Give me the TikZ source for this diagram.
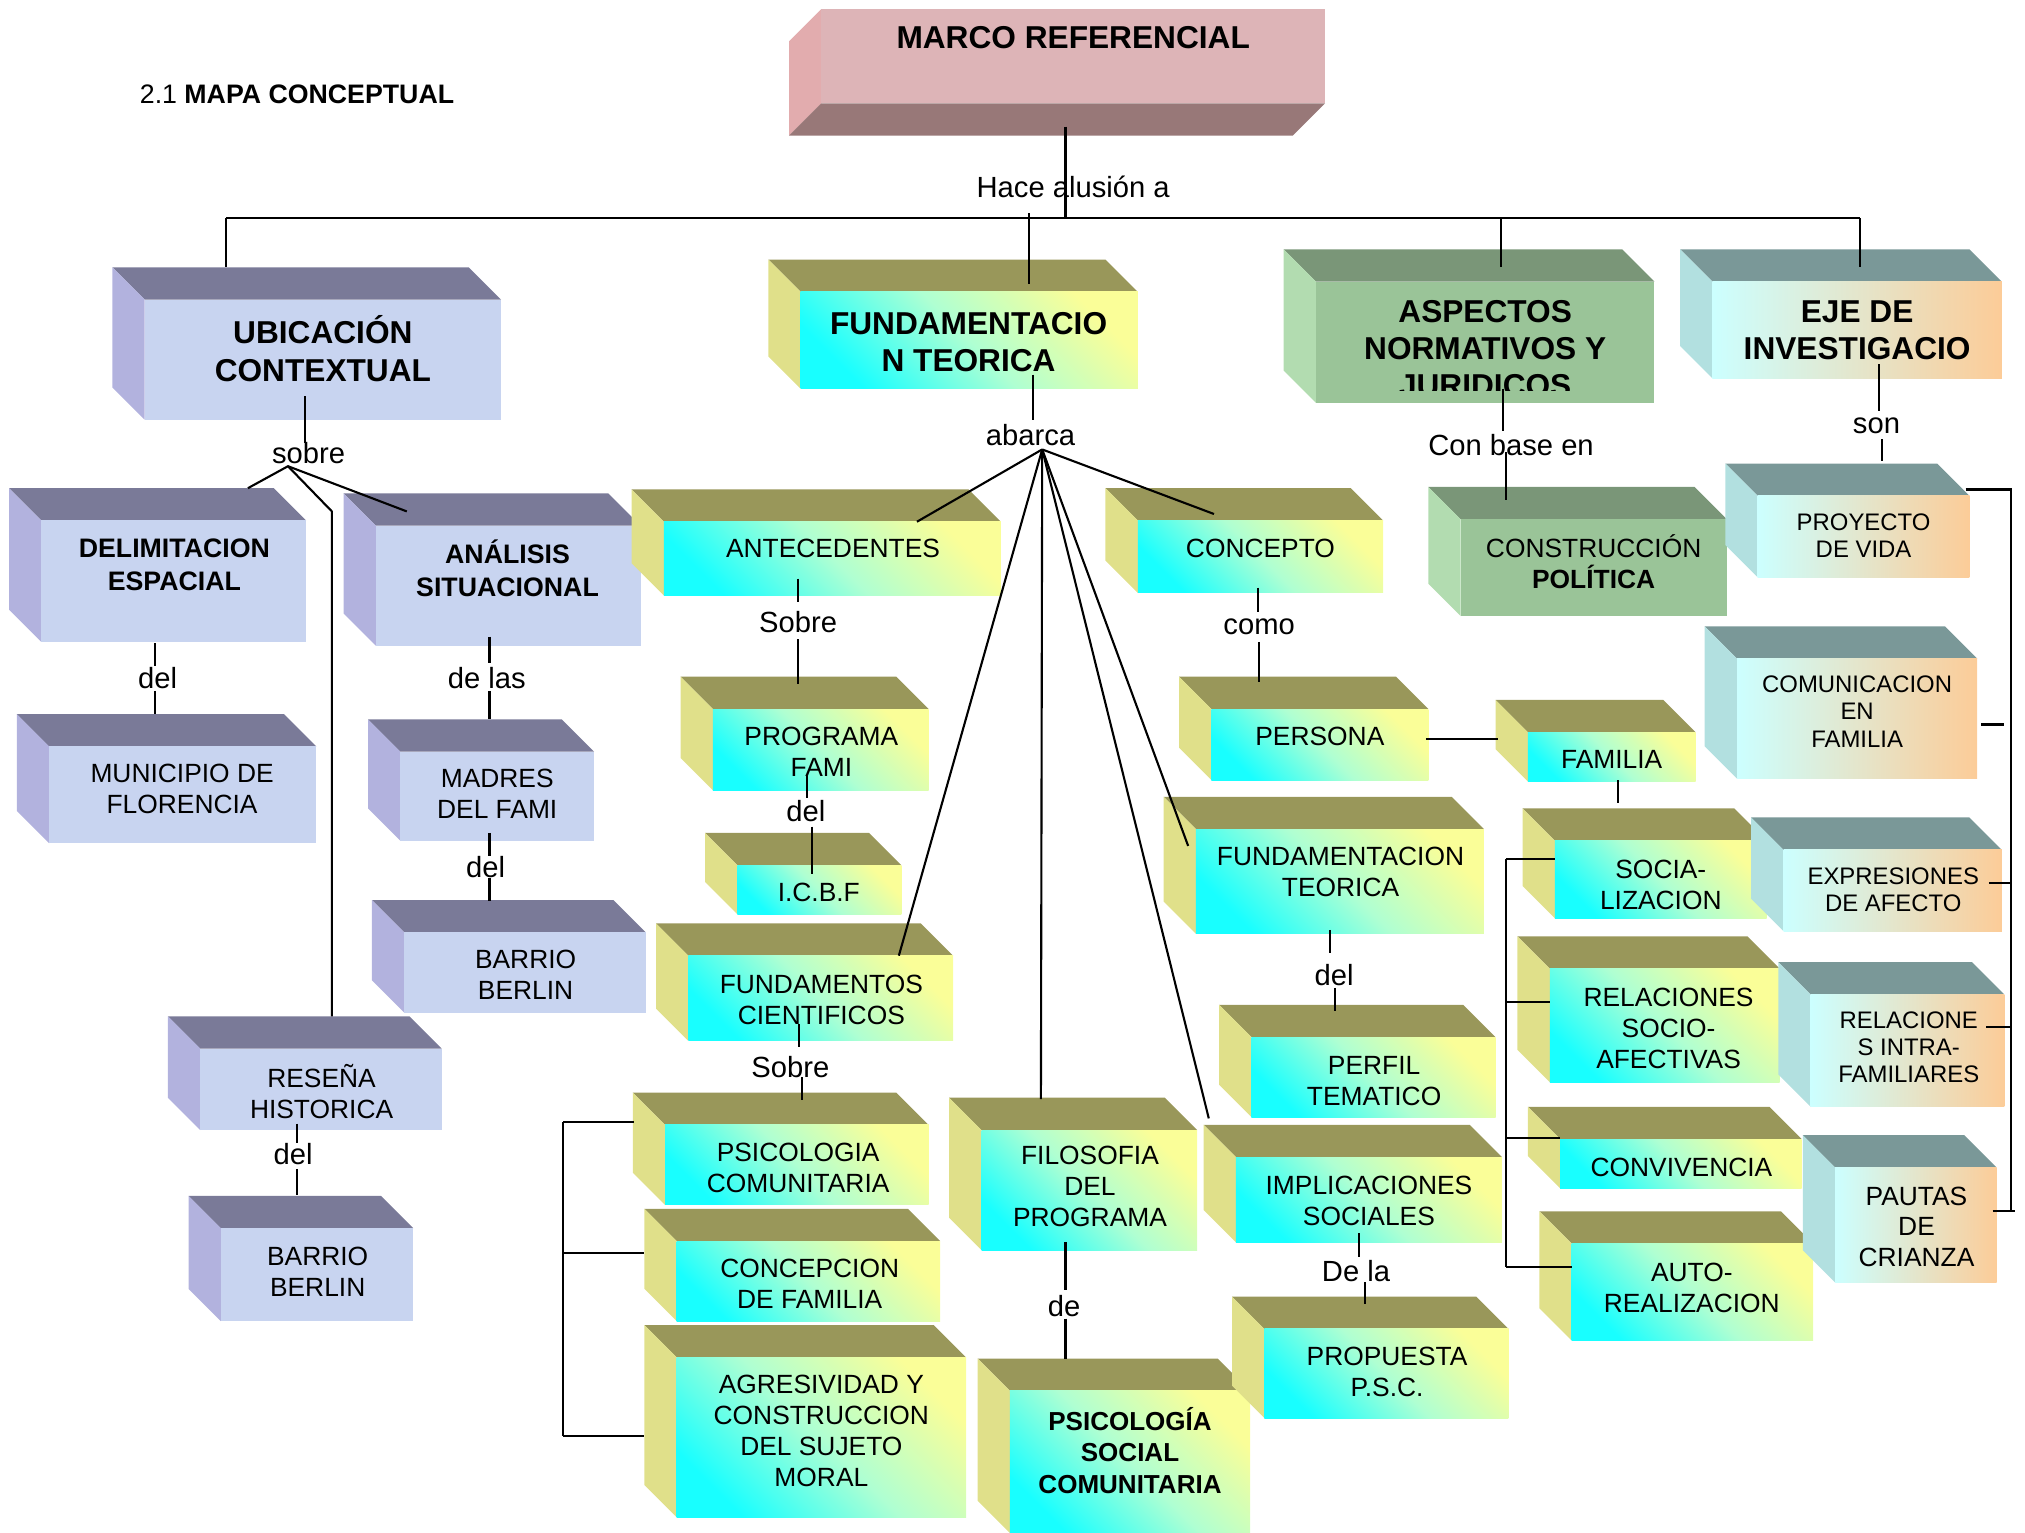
\documentclass[tikz,border=0pt]{standalone}
\usepackage{fontspec}
\setmainfont{Liberation Sans}
\usetikzlibrary{fit}
\definecolor{bluetop}{RGB}{122,122,152}
\definecolor{blueside}{RGB}{178,178,222}
\definecolor{bluefront}{RGB}{200,212,240}
\definecolor{yeltop}{RGB}{153,151,90}
\definecolor{yelside}{RGB}{224,224,138}
\definecolor{yelhi}{RGB}{250,254,152}
\definecolor{yelmid}{RGB}{175,255,210}
\definecolor{yello}{RGB}{24,255,255}
\definecolor{grntop}{RGB}{122,150,120}
\definecolor{grnside}{RGB}{178,220,176}
\definecolor{grnfront}{RGB}{154,196,152}
\definecolor{teatop}{RGB}{122,152,152}
\definecolor{teaside}{RGB}{178,224,224}
\definecolor{teacyan}{RGB}{204,255,255}
\definecolor{teapeach}{RGB}{252,204,152}
\definecolor{pinkfront}{RGB}{221,180,183}
\definecolor{pinkside}{RGB}{226,172,174}
\definecolor{pinkbot}{RGB}{152,120,120}
\tikzset{
  blu-top/.style={fill=bluetop}, blu-side/.style={fill=blueside}, blu-front/.style={fill=bluefront},
  yel-top/.style={fill=yeltop}, yel-side/.style={fill=yelside},
  yel-front/.style={top color=yelhi, bottom color=yello, middle color=yelmid, shading angle=-45},
  grn-top/.style={fill=grntop}, grn-side/.style={fill=grnside}, grn-front/.style={fill=grnfront},
  tea-top/.style={fill=teatop}, tea-side/.style={fill=teaside},
  tea-front/.style={left color=teacyan, right color=teapeach},
  hdr/.style={font=\fontsize{9}{10.6}\selectfont\bfseries, align=center, inner sep=0pt},
  hdrs/.style={font=\fontsize{7.6}{9.4}\selectfont\bfseries, align=center, inner sep=0pt},
  txt/.style={font=\fontsize{7.5}{8.8}\selectfont, align=center, inner sep=0pt},
  sml/.style={font=\fontsize{6.8}{7.7}\selectfont, align=center, inner sep=0pt},
  lbl/.style={font=\fontsize{8.3}{10}\selectfont, inner sep=0pt},
  ln/.style={draw=black, line width=0.6pt}
}
\newcommand\mkblock[6]{%
  \pgfmathsetmacro\cxa{#3+25}%
  \pgfmathsetmacro\cya{#4+25}%
  \pgfmathsetmacro\cxb{#5-25}%
  \pgfmathsetmacro\cyb{#6-25}%
  \fill[#1-top] (#3,#4) -- (\cxb,#4) -- (#5,\cya) -- (\cxa,\cya) -- cycle;
  \fill[#1-side] (#3,#4) -- (\cxa,\cya) -- (\cxa,#6) -- (#3,\cyb) -- cycle;
  \path[#1-front] (\cxa,\cya) rectangle (#5,#6);
  \node[fit={(\cxa,\cya)(#5,#6)}, inner sep=0pt] (#2) {};
}
\begin{document}
\begin{tikzpicture}[x=0.012915cm, y=-0.012915cm]
\useasboundingbox (0,0) rectangle (1568,1187);
% title
\node[font=\fontsize{7.6}{9}\selectfont, inner sep=0pt] (title) at (230,73) {2.1 \textbf{MAPA CONCEPTUAL}};
% marco referencial
\fill[pinkside] (636,7) -- (611,32) -- (611,105) -- (636,80) -- cycle;
\fill[pinkbot] (636,80) -- (1026,80) -- (1001,105) -- (611,105) -- cycle;
\fill[pinkfront] (636,7) rectangle (1026,80);
\node[fit={(636,7)(1026,80)}, inner sep=0pt] (marco) {};
% blocks
\mkblock{blu}{ubic}{87}{207}{388}{325}
\mkblock{yel}{fundt}{595}{201}{881}{301}
\mkblock{grn}{aspec}{994}{193}{1281}{312}
\mkblock{tea}{eje}{1301}{193}{1550}{293}
\mkblock{blu}{delim}{7}{378}{237}{497}
\mkblock{blu}{anal}{266}{382}{496}{500}
\mkblock{blu}{munic}{13}{553}{245}{653}
\mkblock{blu}{madres}{285}{557}{460}{651}
\mkblock{blu}{barrioa}{288}{697}{500}{784}
\mkblock{blu}{resena}{130}{787}{342}{875}
\mkblock{blu}{barriob}{146}{926}{320}{1023}
\mkblock{yel}{antec}{489}{379}{775}{461}
\mkblock{yel}{progr}{527}{524}{719}{612}
\mkblock{yel}{icbf}{546}{645}{698}{708}
\mkblock{yel}{fundc}{508}{715}{738}{806}
\mkblock{yel}{psicc}{490}{846}{719}{933}
\mkblock{yel}{concf}{499}{936}{728}{1023}
\mkblock{yel}{agres}{499}{1026}{748}{1175}
\mkblock{yel}{filos}{735}{850}{927}{968}
\mkblock{yel}{psics}{757}{1052}{968}{1187}
\mkblock{yel}{conc}{856}{378}{1071}{459}
\mkblock{yel}{pers}{913}{524}{1106}{604}
\mkblock{yel}{famil}{1158}{542}{1313}{605}
\mkblock{yel}{fteor}{901}{617}{1149}{723}
\mkblock{yel}{perfil}{944}{778}{1158}{865}
\mkblock{yel}{impl}{932}{871}{1163}{962}
\mkblock{yel}{prop}{954}{1004}{1168}{1098}
\mkblock{grn}{constr}{1106}{377}{1337}{477}
\mkblock{tea}{proy}{1336}{359}{1525}{447}
\mkblock{tea}{comun}{1320}{485}{1531}{603}
\mkblock{yel}{social}{1179}{626}{1368}{711}
\mkblock{tea}{expr}{1356}{633}{1550}{721}
\mkblock{yel}{relsoc}{1175}{725}{1378}{838}
\mkblock{tea}{relint}{1377}{745}{1552}{857}
\mkblock{yel}{conviv}{1183}{857}{1395}{920}
\mkblock{yel}{auto}{1192}{938}{1404}{1038}
\mkblock{tea}{pautas}{1396}{879}{1546}{993}
% connector points
\coordinate (m1) at (825,98);   \coordinate (m2) at (825,169);
\coordinate (hl) at (175,169);  \coordinate (hr) at (1440,169);
\coordinate (u0) at (175,207);
\coordinate (f0) at (797,165);  \coordinate (f1) at (797,220);
\coordinate (a0) at (1162,169); \coordinate (a1) at (1162,207);
\coordinate (e1) at (1440,207);
\coordinate (s1) at (236,307);  \coordinate (s2) at (236,343);
\coordinate (sf) at (223,361);
\coordinate (sd) at (192,378);  \coordinate (sa) at (315,396);
\coordinate (sr) at (257,396);  \coordinate (sr2) at (257,787);
\coordinate (d1) at (120,498);  \coordinate (d2) at (120,516);
\coordinate (d3) at (120,535);  \coordinate (d4) at (120,553);
\coordinate (n1) at (379,493);  \coordinate (n2) at (379,513);
\coordinate (n3) at (379,535);  \coordinate (n4) at (379,557);
\coordinate (q1) at (379,645);  \coordinate (q2) at (379,663);
\coordinate (q3) at (379,680);  \coordinate (q4) at (379,698);
\coordinate (r1) at (230,870);  \coordinate (r2) at (230,885);
\coordinate (r3) at (230,905);  \coordinate (r4) at (230,925);
\coordinate (b1) at (800,290);  \coordinate (b2) at (800,325);
\coordinate (bf) at (807,348);
\coordinate (bA) at (710,404);  \coordinate (bC) at (940,398);
\coordinate (bF) at (696,740);  \coordinate (bP) at (806,851);
\coordinate (bT) at (920,655);  \coordinate (bI) at (936,866);
\coordinate (x1) at (618,448);  \coordinate (x2) at (618,466);
\coordinate (x3) at (618,495);  \coordinate (x4) at (618,530);
\coordinate (p1) at (625,601);  \coordinate (p2) at (625,618);
\coordinate (p3) at (629,640);  \coordinate (p4) at (629,677);
\coordinate (k1) at (619,793);  \coordinate (k2) at (619,811);
\coordinate (k3) at (621,834);  \coordinate (k4) at (621,852);
\coordinate (v1) at (436,869);  \coordinate (v2) at (436,970);  \coordinate (v3) at (436,1112);
\coordinate (w1) at (491,869);  \coordinate (w2) at (499,970);  \coordinate (w3) at (499,1112);
\coordinate (g1) at (825,962);  \coordinate (g2) at (825,999);
\coordinate (g3) at (825,1021); \coordinate (g4) at (825,1052);
\coordinate (c1) at (974,455);  \coordinate (c2) at (974,474);
\coordinate (c3) at (975,497);  \coordinate (c4) at (975,528);
\coordinate (pf1) at (1104,572); \coordinate (pf2) at (1160,572);
\coordinate (fs1) at (1253,604); \coordinate (fs2) at (1253,622);
\coordinate (t1) at (1030,720); \coordinate (t2) at (1030,738);
\coordinate (t3) at (1034,765); \coordinate (t4) at (1034,783);
\coordinate (i1) at (1052,955); \coordinate (i2) at (1052,973);
\coordinate (i3) at (1057,993); \coordinate (i4) at (1057,1010);
\coordinate (cb1) at (1164,301); \coordinate (cb2) at (1164,334);
\coordinate (cb3) at (1166,350); \coordinate (cb4) at (1166,387);
\coordinate (so1) at (1455,282); \coordinate (so2) at (1455,318);
\coordinate (so3) at (1457,340); \coordinate (so4) at (1457,357);
\coordinate (lv1) at (1166,665); \coordinate (lv2) at (1166,776);
\coordinate (lv3) at (1166,881); \coordinate (lv4) at (1166,981);
\coordinate (lh1) at (1204,665); \coordinate (lh2) at (1200,776);
\coordinate (lh3) at (1208,881); \coordinate (lh4) at (1217,981);
\coordinate (rv1) at (1557,379); \coordinate (rv5) at (1557,938);
\coordinate (rh1) at (1522,379); \coordinate (rh2) at (1534,561);
\coordinate (rh2b) at (1552,561);
\coordinate (rh3) at (1540,684); \coordinate (rv3) at (1557,684);
\coordinate (rh4) at (1538,795); \coordinate (rv4) at (1557,795);
\coordinate (rh5) at (1543,938); \coordinate (rh5b) at (1560,938);
% connectors
\draw[ln] (m1) -- (m2);
\draw[ln] (hl) -- (hr);
\draw[ln] (hl) -- (u0);
\draw[ln] (f0) -- (f1);
\draw[ln] (a0) -- (a1);
\draw[ln] (hr) -- (e1);
\draw[ln] (s1) -- (s2);
\draw[ln] (sd) -- (sf) -- (sa);
\draw[ln] (sf) -- (sr) -- (sr2);
\draw[ln] (d1) -- (d2); \draw[ln] (d3) -- (d4);
\draw[ln] (n1) -- (n2); \draw[ln] (n3) -- (n4);
\draw[ln] (q1) -- (q2); \draw[ln] (q3) -- (q4);
\draw[ln] (r1) -- (r2); \draw[ln] (r3) -- (r4);
\draw[ln] (b1) -- (b2);
\draw[ln] (bf) -- (bA); \draw[ln] (bf) -- (bC); \draw[ln] (bf) -- (bF);
\draw[ln] (bf) -- (bP); \draw[ln] (bf) -- (bT); \draw[ln] (bf) -- (bI);
\draw[ln] (x1) -- (x2); \draw[ln] (x3) -- (x4);
\draw[ln] (p1) -- (p2); \draw[ln] (p3) -- (p4);
\draw[ln] (k1) -- (k2); \draw[ln] (k3) -- (k4);
\draw[ln] (v1) -- (v3);
\draw[ln] (v1) -- (w1); \draw[ln] (v2) -- (w2); \draw[ln] (v3) -- (w3);
\draw[ln] (g1) -- (g2); \draw[ln] (g3) -- (g4);
\draw[ln] (c1) -- (c2); \draw[ln] (c3) -- (c4);
\draw[ln] (pf1) -- (pf2);
\draw[ln] (fs1) -- (fs2);
\draw[ln] (t1) -- (t2); \draw[ln] (t3) -- (t4);
\draw[ln] (i1) -- (i2); \draw[ln] (i3) -- (i4);
\draw[ln] (cb1) -- (cb2); \draw[ln] (cb3) -- (cb4);
\draw[ln] (so1) -- (so2); \draw[ln] (so3) -- (so4);
\draw[ln] (lv1) -- (lv4);
\draw[ln] (lv1) -- (lh1); \draw[ln] (lv2) -- (lh2); \draw[ln] (lv3) -- (lh3); \draw[ln] (lv4) -- (lh4);
\draw[ln] (rh1) -- (rv1) -- (rv5);
\draw[ln] (rh2) -- (rh2b);
\draw[ln] (rh3) -- (rv3);
\draw[ln] (rh4) -- (rv4);
\draw[ln] (rh5) -- (rh5b);
% texts
\node[hdr] (marco-t) at (831,29) {MARCO REFERENCIAL};
\node[lbl] (l-hace) at (831,145) {Hace alusión a};
\node[hdr] (ubic-t) at (250,270) {UBICACIÓN\\CONTEXTUAL};
\node[hdr] (fundt-t) at (750,265) {FUNDAMENTACIO\\N TEORICA};
\begin{scope}
\clip (1020,218) rectangle (1281,302);
\node[hdr] (aspec-t) at (1150,270) {ASPECTOS\\NORMATIVOS Y\\JURIDICOS};
\end{scope}
\node[hdr] (eje-t) at (1438,256) {EJE DE\\INVESTIGACIO};
\node[lbl] (l-sobre) at (239,351) {sobre};
\node[hdrs] (delim-t) at (135,437) {DELIMITACION\\ESPACIAL};
\node[hdrs] (anal-t) at (393,440) {ANÁLISIS\\SITUACIONAL};
\node[lbl] (l-del1) at (122,525) {del};
\node[lbl] (l-delas) at (377,525) {de las};
\node[txt] (munic-t) at (141,611) {MUNICIPIO DE\\FLORENCIA};
\node[txt] (madres-t) at (385,615) {MADRES\\DEL FAMI};
\node[lbl] (l-del2) at (376,671) {del};
\node[txt] (barrioa-t) at (407,755) {BARRIO\\BERLIN};
\node[txt] (resena-t) at (249,845) {RESEÑA\\HISTORICA};
\node[lbl] (l-del3) at (227,894) {del};
\node[txt] (barriob-t) at (246,985) {BARRIO\\BERLIN};
\node[lbl] (l-abarca) at (798,337) {abarca};
\node[txt] (antec-t) at (645,425) {ANTECEDENTES};
\node[lbl] (l-sobre2) at (618,482) {Sobre};
\node[txt] (progr-t) at (636,582) {PROGRAMA\\FAMI};
\node[lbl] (l-del4) at (624,628) {del};
\node[txt] (icbf-t) at (634,691) {I.C.B.F};
\node[txt] (fundc-t) at (636,774) {FUNDAMENTOS\\CIENTIFICOS};
\node[lbl] (l-sobre3) at (612,826) {Sobre};
\node[txt] (psicc-t) at (618,904) {PSICOLOGIA\\COMUNITARIA};
\node[txt] (concf-t) at (627,994) {CONCEPCION\\DE FAMILIA};
\node[txt] (agres-t) at (636,1108) {AGRESIVIDAD Y\\CONSTRUCCION\\DEL SUJETO\\MORAL};
\node[txt] (filos-t) at (844,919) {FILOSOFIA\\DEL\\PROGRAMA};
\node[lbl] (l-de) at (824,1011) {de};
\node[font=\fontsize{7.4}{9}\selectfont\bfseries, align=center, inner sep=0pt] (psics-t) at (875,1123) {PSICOLOGÍA\\SOCIAL\\COMUNITARIA};
\node[txt] (conc-t) at (976,425) {CONCEPTO};
\node[lbl] (l-como) at (975,485) {como};
\node[txt] (pers-t) at (1022,570) {PERSONA};
\node[txt] (famil-t) at (1248,588) {FAMILIA};
\node[txt] (fteor-t) at (1038,675) {FUNDAMENTACION\\TEORICA};
\node[lbl] (l-del5) at (1033,755) {del};
\node[txt] (perfil-t) at (1064,837) {PERFIL\\TEMATICO};
\node[txt] (impl-t) at (1060,930) {IMPLICACIONES\\SOCIALES};
\node[lbl] (l-dela) at (1050,984) {De la};
\node[txt] (prop-t) at (1074,1062) {PROPUESTA\\P.S.C.};
\node[lbl] (l-base) at (1170,345) {Con base en};
\node[txt] (constr-t) at (1234,435) {CONSTRUCCIÓN\\\textbf{POLÍTICA}};
\node[lbl] (l-son) at (1453,330) {son};
\node[sml] (proy-t) at (1443,415) {PROYECTO\\DE VIDA};
\node[sml] (comun-t) at (1438,551) {COMUNICACION\\EN\\FAMILIA};
\node[txt] (social-t) at (1286,685) {SOCIA-\\LIZACION};
\node[sml] (expr-t) at (1466,689) {EXPRESIONES\\DE AFECTO};
\node[txt] (relsoc-t) at (1292,796) {RELACIONES\\SOCIO-\\AFECTIVAS};
\node[sml] (relint-t) at (1478,811) {RELACIONE\\S INTRA-\\FAMILIARES};
\node[txt] (conviv-t) at (1302,904) {CONVIVENCIA};
\node[txt] (auto-t) at (1310,997) {AUTO-\\REALIZACION};
\node[txt] (pautas-t) at (1484,950) {PAUTAS\\DE\\CRIANZA};
\end{tikzpicture}
\end{document}
